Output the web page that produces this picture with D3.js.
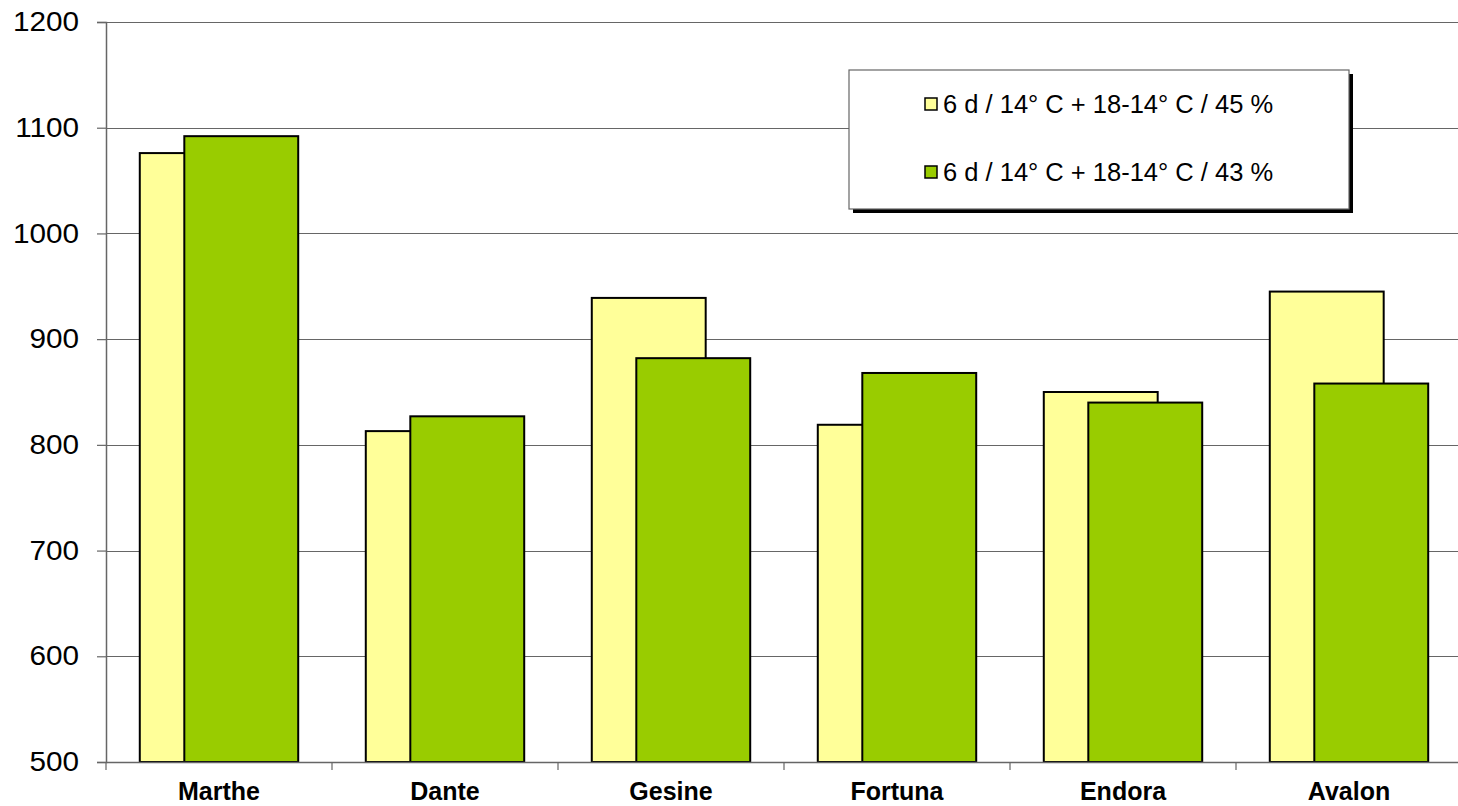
<!DOCTYPE html>
<html><head><meta charset="utf-8">
<script src="https://cdn.jsdelivr.net/npm/d3@7"></script>
<style>html,body{margin:0;padding:0;background:#fff;overflow:hidden;}svg{display:block;}</style>
</head><body>
<svg id="c" width="1458" height="806"></svg>
<script>
const categories = ["Marthe","Dante","Gesine","Fortuna","Endora","Avalon"];
const series45 = [1076, 813, 939, 819, 850, 945];
const series43 = [1092, 827, 882, 868, 840, 858];
const seriesNames = ["6 d / 14° C + 18-14° C / 45 %", "6 d / 14° C + 18-14° C / 43 %"];
const seriesColors = ["#FFFF99", "#99CC00"];
const yTicks = [500,600,700,800,900,1000,1100,1200];

const svg = d3.select("#c");
const pLeft = 106, pRight = 1462, pTop = 22, pBottom = 762;
const font = "'Liberation Sans', Arial, sans-serif";

const x = d3.scaleBand().domain(categories).range([pLeft, pRight]).paddingInner(0).paddingOuter(0);
const y = d3.scaleLinear().domain([500,1200]).range([pBottom, pTop]);

// gridlines
svg.append("g").selectAll("line").data(yTicks.filter(t=>t>500)).join("line")
  .attr("x1", pLeft).attr("x2", pRight)
  .attr("y1", d=>Math.round(y(d))+0.5).attr("y2", d=>Math.round(y(d))+0.5)
  .attr("stroke", "#666").attr("stroke-width", 1.2);

// bars
const bw = x.bandwidth()*0.504;
const offset = x.bandwidth()*0.197;
const data = [series45, series43];
data.forEach((vals, si) => {
  svg.append("g").selectAll("rect").data(categories).join("rect")
    .attr("x", (d)=> x(d) + x.bandwidth()/2 - (bw+offset)/2 + si*offset)
    .attr("y", (d,i)=> y(vals[i]))
    .attr("width", bw)
    .attr("height", (d,i)=> pBottom - y(vals[i]))
    .attr("fill", seriesColors[si])
    .attr("stroke", "#000").attr("stroke-width", 2);
});

// y axis
const yAxis = d3.axisLeft(y).tickValues(yTicks).tickSize(9).tickPadding(18).tickFormat(d3.format("d"));
const ga = svg.append("g").attr("transform", `translate(${pLeft},0)`).call(yAxis);
ga.select(".domain").attr("stroke", "#666").attr("stroke-width", 1.5);
ga.selectAll(".tick line").attr("stroke", "#666").attr("stroke-width", 1.2);
ga.selectAll("text").attr("font-family", font).attr("font-size", 27).attr("fill", "#000")
  .attr("transform", "scale(1.1,1)").attr("x", -27/1.1);

// x axis
const xAxis = d3.axisBottom(x).tickSize(0).tickPadding(20);
const gx = svg.append("g").attr("transform", `translate(0,${pBottom})`).call(xAxis);
gx.select(".domain").attr("stroke", "#666").attr("stroke-width", 1.5);
gx.selectAll("text").attr("font-family", font).attr("font-size", 25).attr("font-weight", "bold").attr("fill", "#000");
// category separator ticks
const seps = categories.map(c=>x(c)).concat([pRight]);
svg.append("g").selectAll("line").data(seps).join("line")
  .attr("x1", d=>d).attr("x2", d=>d).attr("y1", pBottom).attr("y2", pBottom+8)
  .attr("stroke", "#666").attr("stroke-width", 1.2);

// legend
const lg = svg.append("g");
const lx = 849, ly = 70, lw = 500, lh = 139;
lg.append("rect").attr("x", lx+4).attr("y", ly+4).attr("width", lw).attr("height", lh).attr("fill", "#000");
lg.append("rect").attr("x", lx).attr("y", ly).attr("width", lw).attr("height", lh).attr("fill", "#fff").attr("stroke", "#666").attr("stroke-width", 1.2);
seriesNames.forEach((n, i) => {
  const cy = 104 + i*68;
  lg.append("rect").attr("x", 925).attr("y", cy-6).attr("width", 12).attr("height", 12)
    .attr("fill", seriesColors[i]).attr("stroke", "#000").attr("stroke-width", 1.5);
  lg.append("text").attr("x", 943).attr("y", cy).attr("dy", "0.36em")
    .attr("font-family", font).attr("font-size", 25.5).attr("fill", "#000").text(n);
});
</script>
</body></html>
